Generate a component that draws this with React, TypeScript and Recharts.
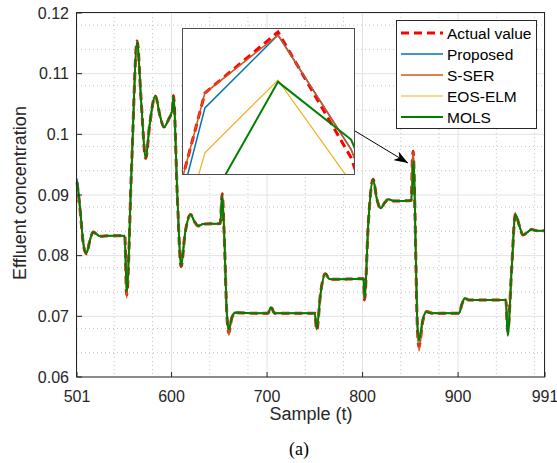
import React from 'react';
import { LineChart, Line, XAxis, YAxis, CartesianGrid } from 'recharts';

const samples = [
  501, 503, 505, 508, 511, 514, 518, 521, 525, 535,
  551, 553, 558, 564, 568, 573, 577, 583, 588, 592,
  597, 601, 602, 606, 610, 614, 620, 624, 628, 633,
  651, 653, 655, 658, 660, 663, 667, 690, 701, 704,
  708, 750, 752, 756, 761, 765, 769, 801, 802, 806,
  811, 815, 819, 823, 827, 833, 851, 852, 853, 854,
  855, 857, 859, 863, 867, 873, 901, 904, 907, 911,
  950, 952, 956, 960, 964, 968, 972, 977, 983, 991,
];

const actualValue = [
  0.0921, 0.0895, 0.0862, 0.0815, 0.0803, 0.0822, 0.0839, 0.0836, 0.0832, 0.0833,
  0.0833, 0.0735, 0.0940, 0.1154, 0.1060, 0.0960, 0.1015, 0.1063, 0.1030, 0.1012,
  0.1025, 0.1042, 0.1064, 0.0900, 0.0782, 0.0835, 0.0868, 0.0856, 0.0849, 0.0852,
  0.0853, 0.0902, 0.0840, 0.0700, 0.0673, 0.0697, 0.0706, 0.0705, 0.0705, 0.0715,
  0.0705, 0.0705, 0.0677, 0.0738, 0.0770, 0.0762, 0.0761, 0.0762, 0.0727, 0.0853,
  0.0926, 0.0893, 0.0878, 0.0887, 0.0893, 0.0890, 0.0891, 0.0952, 0.0972, 0.0930,
  0.0860, 0.0700, 0.0650, 0.0692, 0.0708, 0.0705, 0.0705, 0.0720, 0.0730, 0.0727,
  0.0727, 0.0675, 0.0776, 0.0869, 0.0850, 0.0834, 0.0838, 0.0843, 0.0841, 0.0841,
];

const proposed = [
  0.0927, 0.0900, 0.0866, 0.0818, 0.0805, 0.0823, 0.0839, 0.0836, 0.0832, 0.0833,
  0.0833, 0.0742, 0.0938, 0.1152, 0.1060, 0.0961, 0.1015, 0.1062, 0.1030, 0.1012,
  0.1025, 0.1042, 0.1062, 0.0902, 0.0784, 0.0835, 0.0867, 0.0856, 0.0849, 0.0852,
  0.0853, 0.0900, 0.0842, 0.0702, 0.0676, 0.0698, 0.0706, 0.0705, 0.0705, 0.0714,
  0.0705, 0.0705, 0.0680, 0.0737, 0.0769, 0.0762, 0.0761, 0.0762, 0.0730, 0.0851,
  0.0925, 0.0893, 0.0878, 0.0887, 0.0893, 0.0890, 0.0891, 0.0947, 0.0971, 0.0933,
  0.0862, 0.0702, 0.0655, 0.0693, 0.0708, 0.0705, 0.0705, 0.0720, 0.0730, 0.0727,
  0.0727, 0.0672, 0.0775, 0.0868, 0.0850, 0.0834, 0.0838, 0.0843, 0.0841, 0.0841,
];

const sSer = [
  0.0890, 0.0888, 0.0860, 0.0818, 0.0806, 0.0824, 0.0840, 0.0837, 0.0833, 0.0833,
  0.0833, 0.0730, 0.0940, 0.1153, 0.1060, 0.0962, 0.1016, 0.1063, 0.1030, 0.1013,
  0.1025, 0.1042, 0.1063, 0.0902, 0.0785, 0.0836, 0.0868, 0.0856, 0.0850, 0.0852,
  0.0853, 0.0901, 0.0840, 0.0698, 0.0669, 0.0698, 0.0707, 0.0705, 0.0705, 0.0715,
  0.0705, 0.0705, 0.0678, 0.0738, 0.0770, 0.0762, 0.0761, 0.0762, 0.0728, 0.0853,
  0.0926, 0.0893, 0.0879, 0.0887, 0.0893, 0.0890, 0.0891, 0.0952, 0.0971, 0.0933,
  0.0862, 0.0698, 0.0643, 0.0690, 0.0709, 0.0706, 0.0705, 0.0720, 0.0730, 0.0727,
  0.0727, 0.0674, 0.0776, 0.0869, 0.0850, 0.0834, 0.0838, 0.0843, 0.0841, 0.0841,
];

const eosElm = [
  0.0912, 0.0893, 0.0862, 0.0817, 0.0806, 0.0823, 0.0839, 0.0836, 0.0832, 0.0833,
  0.0833, 0.0738, 0.0936, 0.1150, 0.1058, 0.0962, 0.1014, 0.1061, 0.1030, 0.1013,
  0.1025, 0.1041, 0.1060, 0.0904, 0.0786, 0.0836, 0.0866, 0.0855, 0.0849, 0.0852,
  0.0853, 0.0898, 0.0842, 0.0704, 0.0677, 0.0699, 0.0706, 0.0705, 0.0705, 0.0714,
  0.0705, 0.0705, 0.0681, 0.0736, 0.0768, 0.0762, 0.0761, 0.0762, 0.0731, 0.0849,
  0.0923, 0.0894, 0.0879, 0.0887, 0.0892, 0.0890, 0.0891, 0.0932, 0.0956, 0.0922,
  0.0866, 0.0704, 0.0657, 0.0694, 0.0707, 0.0705, 0.0705, 0.0719, 0.0729, 0.0727,
  0.0727, 0.0673, 0.0774, 0.0866, 0.0850, 0.0835, 0.0838, 0.0842, 0.0841, 0.0841,
];

const mols = [
  0.0922, 0.0897, 0.0864, 0.0816, 0.0804, 0.0822, 0.0839, 0.0836, 0.0832, 0.0833,
  0.0833, 0.0740, 0.0938, 0.1153, 0.1059, 0.0961, 0.1015, 0.1063, 0.1030, 0.1012,
  0.1025, 0.1042, 0.1063, 0.0901, 0.0783, 0.0835, 0.0868, 0.0856, 0.0849, 0.0852,
  0.0853, 0.0901, 0.0841, 0.0701, 0.0678, 0.0698, 0.0706, 0.0705, 0.0705, 0.0715,
  0.0705, 0.0705, 0.0679, 0.0737, 0.0770, 0.0762, 0.0761, 0.0762, 0.0729, 0.0852,
  0.0926, 0.0893, 0.0878, 0.0887, 0.0893, 0.0890, 0.0891, 0.0913, 0.0956, 0.0936,
  0.0864, 0.0703, 0.0660, 0.0695, 0.0707, 0.0705, 0.0705, 0.0720, 0.0730, 0.0727,
  0.0727, 0.0668, 0.0774, 0.0868, 0.0850, 0.0834, 0.0838, 0.0843, 0.0841, 0.0841,
];

// zoomed window around the spike at sample 853
const insetSamples = [851, 852, 853, 854, 855];
const insetActual = [0.0860, 0.09518, 0.0972, 0.09304, 0.0860];
const insetProposed = [0.08532, 0.09469, 0.0971, 0.09332, 0.0870];
const insetSSer = [0.0860, 0.09518, 0.0971, 0.09332, 0.0870];
const insetEosElm = [0.08474, 0.0932, 0.09561, 0.09222, 0.0860];
const insetMols = [0.0870, 0.09128, 0.09555, 0.09364, 0.0880];

const xTicks = [501, 600, 700, 800, 900, 991];
const yTicks = [0.06, 0.07, 0.08, 0.09, 0.1, 0.11, 0.12];
const xMinor = Array.from({ length: 24 }, (_, i) => 520 + i * 20).filter(v => v % 100 !== 0);
const yMinor = Array.from({ length: 29 }, (_, i) => Math.round((0.062 + i * 0.002) * 1000) / 1000)
  .filter(v => Math.round(v * 1000) % 10 !== 0);

const series = [
  { key: 'actual', name: 'Actual value', color: '#FF0000', width: 3, dash: '8 5' },
  { key: 'proposed', name: 'Proposed', color: '#0072BD', width: 1.5, dash: undefined },
  { key: 'sSer', name: 'S-SER', color: '#D95319', width: 1.5, dash: undefined },
  { key: 'eosElm', name: 'EOS-ELM', color: '#EDB120', width: 1.2, dash: undefined },
  { key: 'mols', name: 'MOLS', color: '#007F00', width: 2, dash: undefined },
];

const mainData = samples.map((s, i) => ({
  s,
  actual: actualValue[i],
  proposed: proposed[i],
  sSer: sSer[i],
  eosElm: eosElm[i],
  mols: mols[i],
}));

const insetData = insetSamples.map((s, i) => ({
  s,
  actual: insetActual[i],
  proposed: insetProposed[i],
  sSer: insetSSer[i],
  eosElm: insetEosElm[i],
  mols: insetMols[i],
}));

const FONT = '"Liberation Sans", Arial, Helvetica, sans-serif';
const AXIS = '#262626';

export default function App() {
  return (
    <div style={{ position: 'absolute', left: 0, top: 0, width: 557, height: 463, background: '#fff', overflow: 'hidden' }}>
      <LineChart
        width={557}
        height={463}
        data={mainData}
        margin={{ top: 13, right: 12, bottom: 56, left: 17 }}
        style={{ position: 'absolute', left: 0, top: 0 }}
      >
        <CartesianGrid
          stroke="#c4c4c4"
          strokeDasharray="1 3"
          horizontalValues={yMinor}
          verticalValues={xMinor}
        />
        <CartesianGrid stroke="#e2e2e2" strokeDasharray="" horizontalValues={yTicks} verticalValues={xTicks} />
        <XAxis
          dataKey="s"
          type="number"
          domain={[501, 991]}
          ticks={xTicks}
          height={30}
          axisLine={false}
          tickSize={-5}
          tickMargin={19}
          tickLine={{ stroke: AXIS }}
          tick={{ fill: AXIS, fontSize: 16, fontFamily: FONT }}
        />
        <XAxis
          xAxisId="top"
          orientation="top"
          dataKey="s"
          type="number"
          domain={[501, 991]}
          ticks={xTicks}
          height={0}
          axisLine={false}
          tickSize={-5}
          tickLine={{ stroke: AXIS }}
          tick={false}
        />
        <YAxis
          type="number"
          domain={[0.06, 0.12]}
          ticks={yTicks}
          width={60}
          axisLine={false}
          tickSize={-5}
          tickMargin={13}
          tickLine={{ stroke: AXIS }}
          tickFormatter={(v: number) => String(v)}
          tick={{ fill: AXIS, fontSize: 16, fontFamily: FONT }}
        />
        <YAxis
          yAxisId="right"
          orientation="right"
          type="number"
          domain={[0.06, 0.12]}
          ticks={yTicks}
          width={0}
          axisLine={false}
          tickSize={-5}
          tickLine={{ stroke: AXIS }}
          tick={false}
        />
        {series.map(sr => (
          <Line
            key={sr.key}
            type="monotone"
            dataKey={sr.key}
            stroke={sr.color}
            strokeWidth={sr.width}
            strokeDasharray={sr.dash}
            dot={false}
            activeDot={false}
            isAnimationActive={false}
          />
        ))}
      </LineChart>

      <div
        style={{
          position: 'absolute',
          left: 182,
          top: 28,
          width: 173,
          height: 147,
          boxSizing: 'border-box',
          border: '1px solid #4d4d4d',
          background: '#fff',
        }}
      >
        <LineChart width={171} height={145} data={insetData} margin={{ top: 0, right: 0, bottom: 0, left: 0 }}>
          <XAxis dataKey="s" type="number" domain={[851.7, 854.04]} allowDataOverflow hide />
          <YAxis type="number" domain={[0.0925, 0.0973]} allowDataOverflow hide width={0} />
          {series.map(sr => (
            <Line
              key={sr.key}
              type="linear"
              dataKey={sr.key}
              stroke={sr.color}
              strokeWidth={sr.width}
              strokeDasharray={sr.dash}
              dot={false}
              activeDot={false}
              isAnimationActive={false}
            />
          ))}
        </LineChart>
      </div>

      <svg width={557} height={463} style={{ position: 'absolute', left: 0, top: 0, pointerEvents: 'none' }}>
        <defs>
          <marker id="head" markerWidth="14" markerHeight="10" refX="14" refY="5" orient="auto" markerUnits="userSpaceOnUse">
            <path d="M0,0 L14,5 L0,10 L4,5 Z" fill="#000" />
          </marker>
        </defs>
        <rect x={76.5} y={12.5} width={468} height={364.5} fill="none" stroke={AXIS} strokeWidth={1} />
        <line x1={355} y1={131} x2={408} y2={163} stroke="#000" strokeWidth={1} markerEnd="url(#head)" />

        <rect x={396.5} y={20.5} width={140} height={108} fill="#fff" stroke={AXIS} strokeWidth={1} />
        {series.map((sr, i) => (
          <g key={sr.key}>
            <line
              x1={401}
              x2={443}
              y1={33 + i * 21}
              y2={33 + i * 21}
              stroke={sr.color}
              strokeWidth={sr.width}
              strokeDasharray={sr.dash}
            />
            <text x={447} y={33 + i * 21} dominantBaseline="central" fontSize={15.5} fontFamily={FONT} fill="#000">
              {sr.name}
            </text>
          </g>
        ))}

        <text x={311} y={414} textAnchor="middle" dominantBaseline="central" fontSize={18} fontFamily={FONT} fill={AXIS}>
          Sample (t)
        </text>
        <text
          x={20}
          y={193}
          textAnchor="middle"
          dominantBaseline="central"
          fontSize={18}
          fontFamily={FONT}
          fill={AXIS}
          transform="rotate(-90 20 193)"
        >
          Effluent concentration
        </text>
        <text x={299} y={449} textAnchor="middle" dominantBaseline="central" fontSize={18} fontFamily='"Liberation Serif", "Times New Roman", serif' fill="#000">
          (a)
        </text>
      </svg>
    </div>
  );
}
